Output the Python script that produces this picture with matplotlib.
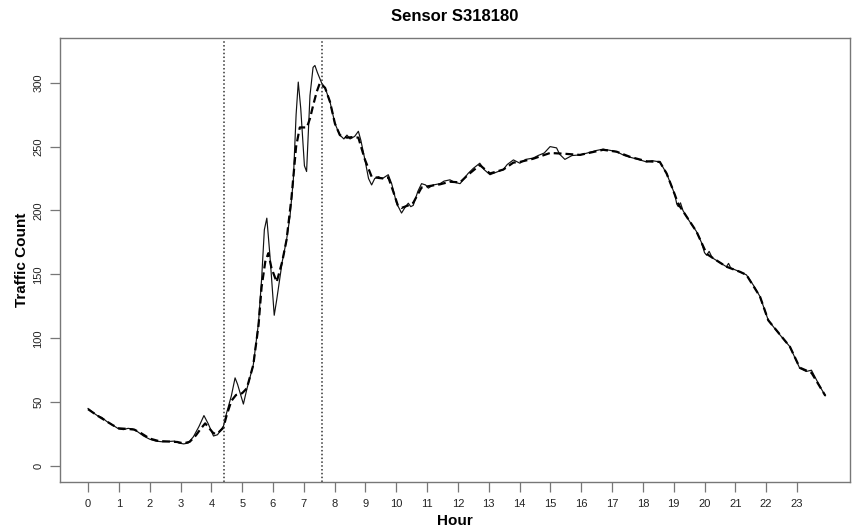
import matplotlib
matplotlib.use("Agg")
import matplotlib.pyplot as plt

plt.rcParams['font.family'] = ['Liberation Sans', 'DejaVu Sans']

title = "Sensor S318180"
x_label = "Hour"
y_label = "Traffic Count"
x_ticks = list(range(0, 24))
y_ticks = [0, 50, 100, 150, 200, 250, 300]
vlines = [4.41, 7.59]

raw_hours = [0.00, 0.15, 0.30, 0.45, 0.60, 0.80, 1.00, 1.15, 1.30, 1.45, 1.60, 1.80,
             2.00, 2.20, 2.40, 2.60, 2.80, 2.95, 3.10, 3.25, 3.42, 3.60, 3.76, 3.90,
             4.07, 4.20, 4.39, 4.50, 4.65, 4.77, 4.85, 5.04, 5.15, 5.36, 5.53, 5.63,
             5.72, 5.80, 5.90, 6.04, 6.12, 6.30, 6.44, 6.55, 6.66, 6.75, 6.82, 6.90,
             7.02, 7.09, 7.20, 7.30, 7.36, 7.44, 7.58, 7.69, 7.85, 8.01, 8.17, 8.30,
             8.40, 8.50, 8.65, 8.77, 8.85, 8.98, 9.10, 9.20, 9.30, 9.42, 9.55, 9.74,
             9.85, 10.01, 10.17, 10.30, 10.39, 10.47, 10.55, 10.70, 10.82, 10.95, 11.04, 11.20,
             11.42, 11.55, 11.74, 11.90, 12.07, 12.20, 12.33, 12.50, 12.71, 12.85, 13.04, 13.25,
             13.47, 13.60, 13.80, 14.01, 14.20, 14.44, 14.60, 14.80, 14.99, 15.20, 15.30, 15.47,
             15.70, 15.96, 16.20, 16.50, 16.71, 16.95, 17.15, 17.40, 17.58, 17.85, 18.12, 18.30,
             18.55, 18.77, 18.98, 19.04, 19.10, 19.15, 19.22, 19.30, 19.50, 19.74, 19.90, 20.00,
             20.07, 20.15, 20.25, 20.45, 20.71, 20.78, 20.85, 21.15, 21.36, 21.60, 21.80, 22.07,
             22.40, 22.77, 22.95, 23.09, 23.30, 23.47, 23.60, 23.75, 23.92]
raw_counts = [45, 42, 39.5, 38, 35, 32, 29, 28.5, 29.5, 29, 27, 23.5,
              21, 19.5, 19, 19.2, 19.5, 18, 17.3, 18, 23, 31, 39.5, 33,
              23.5, 24.5, 31, 42, 55, 69, 64, 48.5, 60, 79, 112, 146,
              185, 194, 165, 118, 130, 160, 177, 195, 224, 275, 300.5, 280,
              235, 230.5, 290, 312, 313.5, 308, 299.7, 296, 285, 268, 259, 256,
              259, 256, 258, 262, 255, 240, 225, 220, 225, 226.5, 225, 228,
              221, 205.7, 198, 203, 205.7, 203, 204, 215, 221, 220, 217.5, 220,
              221, 223, 224, 222, 221, 225, 229, 233, 237, 232, 228, 230,
              232, 236, 239.6, 237, 240, 241, 243, 245, 250, 249, 244, 240,
              243, 243.5, 245, 247, 248, 247, 246, 243, 241.7, 240, 238, 239,
              238, 229, 216, 212, 205, 203, 206, 200, 192, 183.5, 175, 167,
              165, 168, 163, 160, 156, 158.6, 155, 152, 149.6, 141, 132.6, 114,
              104, 93.4, 84, 76.5, 74, 75, 69, 62, 55]

smooth_hours = [0.00, 0.30, 0.60, 0.80, 1.00, 1.30, 1.50, 1.70, 2.00, 2.30, 2.60, 2.90,
                3.10, 3.30, 3.50, 3.65, 3.80, 3.95, 4.07, 4.20, 4.39, 4.50, 4.65, 4.80,
                5.00, 5.15, 5.36, 5.53, 5.63, 5.75, 5.85, 5.95, 6.12, 6.30, 6.44, 6.60,
                6.75, 6.87, 7.10, 7.20, 7.31, 7.42, 7.52, 7.69, 7.85, 8.01, 8.17, 8.40,
                8.60, 8.77, 8.98, 9.20, 9.42, 9.60, 9.74, 9.90, 10.05, 10.17, 10.39, 10.55,
                10.82, 11.04, 11.42, 11.74, 12.07, 12.33, 12.71, 13.04, 13.47, 13.80, 14.01, 14.44,
                14.99, 15.40, 15.96, 16.71, 17.15, 17.58, 18.12, 18.55, 18.77, 18.98, 19.15, 19.74,
                20.07, 20.45, 20.71, 21.15, 21.36, 21.80, 22.07, 22.77, 23.09, 23.47, 23.92]
smooth_counts = [44.5, 39.5, 35, 32, 29.5, 29, 28.5, 26, 21.5, 19.5, 19.2, 18.8,
                 17.7, 19, 24, 29, 33.4, 29, 25.6, 25.5, 30, 40, 51, 55.6,
                 57, 60.8, 79, 110, 140, 160, 166.6, 155, 144, 160, 177, 210,
                 250, 265, 265, 272, 283, 293, 299.7, 296, 285, 268, 259, 257,
                 257.5, 257, 240, 226.5, 225.5, 225, 226, 215, 204, 202, 204, 206,
                 218, 219, 220.5, 222.5, 222, 228, 235.5, 229, 232, 237.5, 238, 240.5,
                 245, 244.5, 243.5, 247.5, 246, 242, 238.5, 238, 229, 216, 205, 183.5,
                 166, 160, 156, 152, 149.6, 132.6, 114, 93.4, 77, 73, 55]

fig = plt.figure(figsize=(8.52, 5.31), dpi=100)
ax = fig.add_axes([60/852, 1-482/531, 790/852, 444/531])

ax.plot(raw_hours, raw_counts, color='#111111', lw=0.85)
ax.plot(smooth_hours, smooth_counts, color='black', lw=1.6, linestyle=(0, (3.5, 1.8)))
for v in vlines:
    ax.axvline(v, color='#333333', lw=1.1, linestyle=(0, (1, 1.5)))

ax.set_xlim(-0.91, 24.72)
ax.set_ylim(-12.5, 335)
ax.set_xticks(x_ticks)
ax.set_xticklabels([str(t) for t in x_ticks], fontsize=8)
ax.set_yticks(y_ticks)
ax.set_yticklabels([str(t) for t in y_ticks], fontsize=8, rotation=90, va='center')
for s in ax.spines.values():
    s.set_color('#777777')
    s.set_linewidth(1.0)
ax.tick_params(axis='both', direction='out', length=7, width=0.9, color='#777777',
               labelcolor='#222222', pad=5)
ax.set_title(title, fontsize=12, fontweight='bold', pad=12)
ax.set_xlabel(x_label, fontsize=11, fontweight='bold', labelpad=4)
ax.set_ylabel(y_label, fontsize=11, fontweight='bold', labelpad=3)

fig.savefig("out.png", dpi=100)
